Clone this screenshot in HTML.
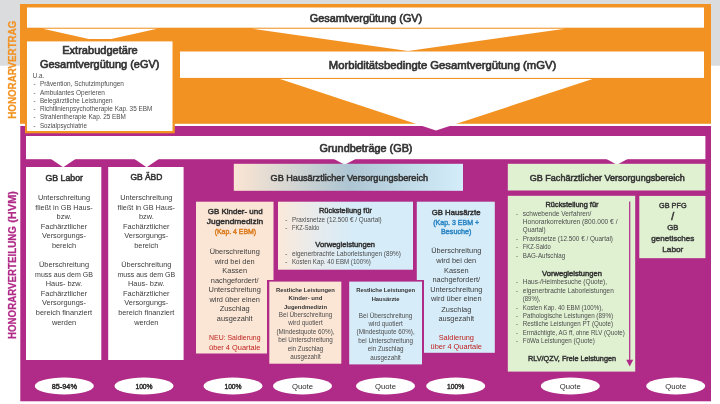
<!DOCTYPE html>
<html><head><meta charset="utf-8"><title>Honorarvertrag / Honorarverteilung</title>
<style>
html,body{margin:0;padding:0;background:#fff;}
body{width:720px;height:404px;overflow:hidden;}
svg{display:block;font-family:"Liberation Sans",sans-serif;will-change:transform;}
</style></head><body>
<svg width="720" height="404" viewBox="0 0 720 404">
<defs>
<linearGradient id="gh" x1="0" x2="1" y1="0" y2="0"><stop offset="0" stop-color="#FBE5D3"/><stop offset="0.5" stop-color="#AEC6D3"/><stop offset="1" stop-color="#D3EDFA"/></linearGradient>
<linearGradient id="gr" x1="0" x2="1" y1="0" y2="0"><stop offset="0" stop-color="#FBE9DA"/><stop offset="0.3" stop-color="#E6EBEE"/><stop offset="0.55" stop-color="#D6ECF8"/><stop offset="1" stop-color="#D6ECF8"/></linearGradient>
</defs>
<rect x="0" y="0" width="720" height="65.7" fill="#DBDCDE"/>
<rect x="20" y="4" width="691" height="119.8" fill="#F29222"/>
<rect x="20.3" y="126" width="690.7" height="275.3" fill="#B02A87"/>
<rect x="27" y="7.5" width="677" height="20.2" fill="#fff"/>
<polygon points="43,28.8 157,28.8 100,41.5" fill="#fff"/>
<polygon points="252,28.8 565,28.8 408,51" fill="#fff"/>
<rect x="180" y="51.5" width="524" height="26.4" fill="#fff"/>
<polygon points="280,79.0 592.5,79.0 436,130.5" fill="#fff"/>
<rect x="25" y="39" width="149.8" height="94.3" fill="#F29222"/>
<rect x="27" y="41.4" width="145.5" height="89.6" fill="#fff"/>
<text x="366" y="21.8" font-size="10.6" stroke="#333333" stroke-width="0.636" text-anchor="middle" fill="#333333" textLength="112.5" lengthAdjust="spacingAndGlyphs">Gesamtvergütung (GV)</text>
<text x="442.5" y="69.1" font-size="10.6" stroke="#333333" stroke-width="0.636" text-anchor="middle" fill="#333333" textLength="227.5" lengthAdjust="spacingAndGlyphs">Morbiditätsbedingte Gesamtvergütung (mGV)</text>
<text x="100" y="54.3" font-size="10.6" stroke="#333333" stroke-width="0.636" text-anchor="middle" fill="#333333" textLength="75.6" lengthAdjust="spacingAndGlyphs">Extrabudgetäre</text>
<text x="99.7" y="68.2" font-size="10.6" stroke="#333333" stroke-width="0.636" text-anchor="middle" fill="#333333" textLength="119.5" lengthAdjust="spacingAndGlyphs">Gesamtvergütung (eGV)</text>
<text x="32.7" y="78" font-size="6.3" fill="#4c4c4c">U.a.</text>
<text x="33.4" y="86" font-size="6.3" fill="#4c4c4c">-</text>
<text x="39.9" y="86" font-size="6.3" fill="#4c4c4c" textLength="84" lengthAdjust="spacingAndGlyphs">Prävention, Schutzimpfungen</text>
<text x="33.4" y="95" font-size="6.3" fill="#4c4c4c">-</text>
<text x="39.9" y="95" font-size="6.3" fill="#4c4c4c" textLength="65" lengthAdjust="spacingAndGlyphs">Ambulantes Operieren</text>
<text x="33.4" y="103" font-size="6.3" fill="#4c4c4c">-</text>
<text x="39.9" y="103" font-size="6.3" fill="#4c4c4c" textLength="72.7" lengthAdjust="spacingAndGlyphs">Belegärztliche Leistungen</text>
<text x="33.4" y="111" font-size="6.3" fill="#4c4c4c">-</text>
<text x="39.9" y="111" font-size="6.3" fill="#4c4c4c" textLength="112.5" lengthAdjust="spacingAndGlyphs">Richtlinienpsychotherapie Kap. 35 EBM</text>
<text x="33.4" y="119" font-size="6.3" fill="#4c4c4c">-</text>
<text x="39.9" y="119" font-size="6.3" fill="#4c4c4c" textLength="86" lengthAdjust="spacingAndGlyphs">Strahlentherapie Kap. 25 EBM</text>
<text x="33.4" y="128" font-size="6.3" fill="#4c4c4c">-</text>
<text x="39.9" y="128" font-size="6.3" fill="#4c4c4c" textLength="47" lengthAdjust="spacingAndGlyphs">Sozialpsychiatrie</text>
<rect x="26" y="136" width="679.4" height="23.2" fill="#fff"/>
<text x="366" y="152" font-size="10.6" stroke="#333333" stroke-width="0.636" text-anchor="middle" fill="#333333" textLength="93" lengthAdjust="spacingAndGlyphs">Grundbeträge (GB)</text>
<polygon points="51,159 75.5,159 63.2,167.2" fill="#fff"/>
<polygon points="134.5,159 158.8,159 146.6,167.2" fill="#fff"/>
<polygon points="334,159 355.5,159 344.7,164.8" fill="#fff"/>
<polygon points="606.5,159 627.5,159 617,164.8" fill="#fff"/>
<rect x="26" y="167" width="75.3" height="193" fill="#fff"/>
<rect x="108.2" y="167" width="75.4" height="193" fill="#fff"/>
<text x="64.2" y="180.6" font-size="8.2" stroke="#333333" stroke-width="0.492" text-anchor="middle" fill="#333333" textLength="37.4" lengthAdjust="spacingAndGlyphs">GB Labor</text>
<text x="64" y="200.1" font-size="7.4" text-anchor="middle" fill="#3c3c3c">Unterschreitung</text>
<text x="64" y="209.67" font-size="7.4" text-anchor="middle" fill="#3c3c3c" textLength="57.4" lengthAdjust="spacingAndGlyphs">fließt in GB Haus-</text>
<text x="64" y="219.24" font-size="7.4" text-anchor="middle" fill="#3c3c3c">bzw.</text>
<text x="64" y="228.81" font-size="7.4" text-anchor="middle" fill="#3c3c3c">Fachärztlicher</text>
<text x="64" y="238.38" font-size="7.4" text-anchor="middle" fill="#3c3c3c">Versorgungs-</text>
<text x="64" y="247.95" font-size="7.4" text-anchor="middle" fill="#3c3c3c">bereich</text>
<text x="64" y="267.09" font-size="7.4" text-anchor="middle" fill="#3c3c3c">Überschreitung</text>
<text x="64" y="276.66" font-size="7.4" text-anchor="middle" fill="#3c3c3c" textLength="57.8" lengthAdjust="spacingAndGlyphs">muss aus dem GB</text>
<text x="64" y="286.23" font-size="7.4" text-anchor="middle" fill="#3c3c3c">Haus- bzw.</text>
<text x="64" y="295.8" font-size="7.4" text-anchor="middle" fill="#3c3c3c">Fachärztlicher</text>
<text x="64" y="305.37" font-size="7.4" text-anchor="middle" fill="#3c3c3c">Versorgungs-</text>
<text x="64" y="314.94" font-size="7.4" text-anchor="middle" fill="#3c3c3c">bereich finanziert</text>
<text x="64" y="324.51" font-size="7.4" text-anchor="middle" fill="#3c3c3c">werden</text>
<text x="146.4" y="180.2" font-size="8.2" stroke="#333333" stroke-width="0.492" text-anchor="middle" fill="#333333" textLength="32" lengthAdjust="spacingAndGlyphs">GB ÄBD</text>
<text x="146.3" y="200.1" font-size="7.4" text-anchor="middle" fill="#3c3c3c">Unterschreitung</text>
<text x="146.3" y="209.67" font-size="7.4" text-anchor="middle" fill="#3c3c3c" textLength="57.4" lengthAdjust="spacingAndGlyphs">fließt in GB Haus-</text>
<text x="146.3" y="219.24" font-size="7.4" text-anchor="middle" fill="#3c3c3c">bzw.</text>
<text x="146.3" y="228.81" font-size="7.4" text-anchor="middle" fill="#3c3c3c">Fachärztlicher</text>
<text x="146.3" y="238.38" font-size="7.4" text-anchor="middle" fill="#3c3c3c">Versorgungs-</text>
<text x="146.3" y="247.95" font-size="7.4" text-anchor="middle" fill="#3c3c3c">bereich</text>
<text x="146.3" y="267.09" font-size="7.4" text-anchor="middle" fill="#3c3c3c">Überschreitung</text>
<text x="146.3" y="276.66" font-size="7.4" text-anchor="middle" fill="#3c3c3c" textLength="57.8" lengthAdjust="spacingAndGlyphs">muss aus dem GB</text>
<text x="146.3" y="286.23" font-size="7.4" text-anchor="middle" fill="#3c3c3c">Haus- bzw.</text>
<text x="146.3" y="295.8" font-size="7.4" text-anchor="middle" fill="#3c3c3c">Fachärztlicher</text>
<text x="146.3" y="305.37" font-size="7.4" text-anchor="middle" fill="#3c3c3c">Versorgungs-</text>
<text x="146.3" y="314.94" font-size="7.4" text-anchor="middle" fill="#3c3c3c">bereich finanziert</text>
<text x="146.3" y="324.51" font-size="7.4" text-anchor="middle" fill="#3c3c3c">werden</text>
<rect x="233.8" y="163.8" width="229.2" height="27" fill="url(#gh)"/>
<text x="349.3" y="180.5" font-size="8.4" stroke="#333333" stroke-width="0.504" text-anchor="middle" fill="#333333" textLength="157.5" lengthAdjust="spacingAndGlyphs">GB Hausärztlicher Versorgungsbereich</text>
<rect x="196" y="201.7" width="77.5" height="151.8" fill="#FBE6D5"/>
<text x="235.2" y="214.2" font-size="8.0" stroke="#333333" stroke-width="0.48" text-anchor="middle" fill="#333333" textLength="55" lengthAdjust="spacingAndGlyphs">GB Kinder- und</text>
<text x="235" y="224.4" font-size="8.0" stroke="#333333" stroke-width="0.48" text-anchor="middle" fill="#333333" textLength="56.3" lengthAdjust="spacingAndGlyphs">Jugendmedizin</text>
<text x="235.4" y="234.3" font-size="7.4" stroke="#DB7A1C" stroke-width="0.444" text-anchor="middle" fill="#DB7A1C" textLength="41.5" lengthAdjust="spacingAndGlyphs">(Kap. 4 EBM)</text>
<text x="234.7" y="254" font-size="7.4" text-anchor="middle" fill="#3c3c3c">Überschreitung</text>
<text x="234.7" y="264" font-size="7.4" text-anchor="middle" fill="#3c3c3c">wird bei den</text>
<text x="234.7" y="273" font-size="7.4" text-anchor="middle" fill="#3c3c3c">Kassen</text>
<text x="234.7" y="283" font-size="7.4" text-anchor="middle" fill="#3c3c3c">nachgefordert/</text>
<text x="234.7" y="292" font-size="7.4" text-anchor="middle" fill="#3c3c3c">Unterschreitung</text>
<text x="234.7" y="302" font-size="7.4" text-anchor="middle" fill="#3c3c3c">wird über einen</text>
<text x="234.7" y="311" font-size="7.4" text-anchor="middle" fill="#3c3c3c">Zuschlag</text>
<text x="234.7" y="321" font-size="7.4" text-anchor="middle" fill="#3c3c3c">ausgezahlt</text>
<text x="234.8" y="340.3" font-size="7.4" text-anchor="middle" fill="#C0211F" textLength="51.5" lengthAdjust="spacingAndGlyphs">NEU: Saldierung</text>
<text x="234.7" y="349.7" font-size="7.4" text-anchor="middle" fill="#C0211F">über 4 Quartale</text>
<rect x="278" y="201.7" width="135" height="68" fill="url(#gr)"/>
<text x="345.5" y="213.1" font-size="7.5" stroke="#333333" stroke-width="0.45" text-anchor="middle" fill="#333333" textLength="53" lengthAdjust="spacingAndGlyphs">Rückstellung für</text>
<text x="285.3" y="222" font-size="6.3" fill="#4c4c4c">-</text>
<text x="292" y="222" font-size="6.3" fill="#4c4c4c" textLength="89.7" lengthAdjust="spacingAndGlyphs">Praxisnetze (12.500 € / Quartal)</text>
<text x="285.3" y="229.6" font-size="6.3" fill="#4c4c4c">-</text>
<text x="292" y="229.6" font-size="6.3" fill="#4c4c4c" textLength="27.3" lengthAdjust="spacingAndGlyphs">FKZ-Saldo</text>
<text x="345.2" y="246.9" font-size="7.5" stroke="#333333" stroke-width="0.45" text-anchor="middle" fill="#333333" textLength="59.8" lengthAdjust="spacingAndGlyphs">Vorwegleistungen</text>
<text x="285.3" y="255.8" font-size="6.3" fill="#4c4c4c">-</text>
<text x="292" y="255.8" font-size="6.3" fill="#4c4c4c" textLength="108.9" lengthAdjust="spacingAndGlyphs">eigenerbrachte Laborleistungen (89%)</text>
<text x="285.3" y="263.8" font-size="6.3" fill="#4c4c4c">-</text>
<text x="292" y="263.8" font-size="6.3" fill="#4c4c4c" textLength="78.7" lengthAdjust="spacingAndGlyphs">Kosten Kap. 40 EBM (100%)</text>
<rect x="416.8" y="201.7" width="78.0" height="151.1" fill="#D6ECF8"/>
<text x="456.1" y="215" font-size="8.0" stroke="#333333" stroke-width="0.48" text-anchor="middle" fill="#333333" textLength="48.8" lengthAdjust="spacingAndGlyphs">GB Hausärzte</text>
<text x="456.2" y="225" font-size="7.4" stroke="#2B86C5" stroke-width="0.444" text-anchor="middle" fill="#2B86C5" textLength="46" lengthAdjust="spacingAndGlyphs">(Kap. 3 EBM +</text>
<text x="456.2" y="234" font-size="7.4" stroke="#2B86C5" stroke-width="0.444" text-anchor="middle" fill="#2B86C5" textLength="30.4" lengthAdjust="spacingAndGlyphs">Besuche)</text>
<text x="456.3" y="253" font-size="7.4" text-anchor="middle" fill="#3c3c3c">Überschreitung</text>
<text x="456.3" y="263" font-size="7.4" text-anchor="middle" fill="#3c3c3c">wird bei den</text>
<text x="456.3" y="273" font-size="7.4" text-anchor="middle" fill="#3c3c3c">Kassen</text>
<text x="456.3" y="282" font-size="7.4" text-anchor="middle" fill="#3c3c3c">nachgefordert/</text>
<text x="456.3" y="292" font-size="7.4" text-anchor="middle" fill="#3c3c3c">Unterschreitung</text>
<text x="456.3" y="301" font-size="7.4" text-anchor="middle" fill="#3c3c3c">wird über einen</text>
<text x="456.3" y="312" font-size="7.4" text-anchor="middle" fill="#3c3c3c">Zuschlag</text>
<text x="456.3" y="321" font-size="7.4" text-anchor="middle" fill="#3c3c3c">ausgezahlt</text>
<text x="456.3" y="340" font-size="7.4" text-anchor="middle" fill="#C0211F">Saldierung</text>
<text x="456.3" y="348.6" font-size="7.4" text-anchor="middle" fill="#C0211F">über 4 Quartale</text>
<rect x="267" y="280" width="76" height="85.3" fill="#B02A87"/>
<rect x="269.3" y="281.6" width="72.0" height="82.1" fill="#FBE6D5"/>
<rect x="347" y="280" width="77" height="86" fill="#B02A87"/>
<rect x="349.2" y="281.6" width="72.8" height="82.8" fill="#D6ECF8"/>
<text x="305.5" y="291.9" font-size="6.0" font-weight="bold" text-anchor="middle" fill="#333333" textLength="58.8" lengthAdjust="spacingAndGlyphs">Restliche Leistungen</text>
<text x="305.5" y="300.0" font-size="6.0" font-weight="bold" text-anchor="middle" fill="#333333" textLength="33.8" lengthAdjust="spacingAndGlyphs">Kinder- und</text>
<text x="305.5" y="308.9" font-size="6.0" font-weight="bold" text-anchor="middle" fill="#333333" textLength="43" lengthAdjust="spacingAndGlyphs">Jugendmedizin</text>
<text x="305.5" y="316.9" font-size="6.3" text-anchor="middle" fill="#4c4c4c">Bei Überschreitung</text>
<text x="305.5" y="325.3" font-size="6.3" text-anchor="middle" fill="#4c4c4c">wird quotiert</text>
<text x="305.5" y="333.8" font-size="6.3" text-anchor="middle" fill="#4c4c4c">(Mindestquote 60%),</text>
<text x="305.5" y="342.0" font-size="6.3" text-anchor="middle" fill="#4c4c4c">bei Unterschreitung</text>
<text x="305.5" y="351.2" font-size="6.3" text-anchor="middle" fill="#4c4c4c">ein Zuschlag</text>
<text x="305.5" y="359.1" font-size="6.3" text-anchor="middle" fill="#4c4c4c">ausgezahlt</text>
<text x="385.6" y="291.9" font-size="6.0" font-weight="bold" text-anchor="middle" fill="#333333" textLength="58.8" lengthAdjust="spacingAndGlyphs">Restliche Leistungen</text>
<text x="385.6" y="300.7" font-size="6.0" font-weight="bold" text-anchor="middle" fill="#333333" textLength="27.9" lengthAdjust="spacingAndGlyphs">Hausärzte</text>
<text x="385.6" y="317.5" font-size="6.3" text-anchor="middle" fill="#4c4c4c">Bei Überschreitung</text>
<text x="385.6" y="326" font-size="6.3" text-anchor="middle" fill="#4c4c4c">wird quotiert</text>
<text x="385.6" y="333.8" font-size="6.3" text-anchor="middle" fill="#4c4c4c">(Mindestquote 60%),</text>
<text x="385.6" y="342.6" font-size="6.3" text-anchor="middle" fill="#4c4c4c">bei Unterschreitung</text>
<text x="385.6" y="351.0" font-size="6.3" text-anchor="middle" fill="#4c4c4c">ein Zuschlag</text>
<text x="385.6" y="359.6" font-size="6.3" text-anchor="middle" fill="#4c4c4c">ausgezahlt</text>
<rect x="507.8" y="163.8" width="197.6" height="26.7" fill="#E0F1D2"/>
<text x="607.3" y="180.6" font-size="8.4" stroke="#333333" stroke-width="0.504" text-anchor="middle" fill="#333333" textLength="155" lengthAdjust="spacingAndGlyphs">GB Fachärztlicher Versorgungsbereich</text>
<rect x="507.8" y="195.8" width="127.4" height="175.8" fill="#E0F1D2"/>
<rect x="639.3" y="195.9" width="66.1" height="62.3" fill="#E0F1D2"/>
<text x="672.8" y="207.6" font-size="7.8" stroke="#3a3a3a" stroke-width="0.468" text-anchor="middle" fill="#3a3a3a" textLength="27.5" lengthAdjust="spacingAndGlyphs">GB PFG</text>
<text x="672.8" y="219.7" font-size="10.5" stroke="#3a3a3a" stroke-width="0.63" text-anchor="middle" fill="#3a3a3a">/</text>
<text x="672.8" y="229.5" font-size="7.8" stroke="#3a3a3a" stroke-width="0.468" text-anchor="middle" fill="#3a3a3a" textLength="11.1" lengthAdjust="spacingAndGlyphs">GB</text>
<text x="672.8" y="240.5" font-size="7.8" stroke="#3a3a3a" stroke-width="0.468" text-anchor="middle" fill="#3a3a3a" textLength="43.2" lengthAdjust="spacingAndGlyphs">genetisches</text>
<text x="672.8" y="251.6" font-size="7.8" stroke="#3a3a3a" stroke-width="0.468" text-anchor="middle" fill="#3a3a3a" textLength="21.2" lengthAdjust="spacingAndGlyphs">Labor</text>
<text x="572" y="207" font-size="7.5" stroke="#333333" stroke-width="0.45" text-anchor="middle" fill="#333333" textLength="53" lengthAdjust="spacingAndGlyphs">Rückstellung für</text>
<text x="516" y="216" font-size="6.3" fill="#4c4c4c">-</text>
<text x="522.8" y="216" font-size="6.3" fill="#4c4c4c" textLength="68.6" lengthAdjust="spacingAndGlyphs">schwebende Verfahren/</text>
<text x="522.8" y="223.9" font-size="6.3" fill="#4c4c4c" textLength="94.7" lengthAdjust="spacingAndGlyphs">Honorarkorrekturen (800.000 € /</text>
<text x="522.8" y="232.4" font-size="6.3" fill="#4c4c4c" textLength="22.7" lengthAdjust="spacingAndGlyphs">Quartal)</text>
<text x="516" y="240.9" font-size="6.3" fill="#4c4c4c">-</text>
<text x="522.8" y="240.9" font-size="6.3" fill="#4c4c4c" textLength="90.2" lengthAdjust="spacingAndGlyphs">Praxisnetze (12.500 € / Quartal)</text>
<text x="516" y="249.1" font-size="6.3" fill="#4c4c4c">-</text>
<text x="522.8" y="249.1" font-size="6.3" fill="#4c4c4c" textLength="27.9" lengthAdjust="spacingAndGlyphs">FKZ-Saldo</text>
<text x="516" y="257.6" font-size="6.3" fill="#4c4c4c">-</text>
<text x="522.8" y="257.6" font-size="6.3" fill="#4c4c4c" textLength="42.3" lengthAdjust="spacingAndGlyphs">BAG-Aufschlag</text>
<text x="572" y="276" font-size="7.5" stroke="#333333" stroke-width="0.45" text-anchor="middle" fill="#333333" textLength="59.8" lengthAdjust="spacingAndGlyphs">Vorwegleistungen</text>
<text x="516" y="283.8" font-size="6.3" fill="#4c4c4c">-</text>
<text x="522.8" y="283.8" font-size="6.3" fill="#4c4c4c" textLength="84.3" lengthAdjust="spacingAndGlyphs">Haus-/Heimbesuche (Quote),</text>
<text x="516" y="293.0" font-size="6.3" fill="#4c4c4c">-</text>
<text x="522.8" y="293.0" font-size="6.3" fill="#4c4c4c" textLength="91" lengthAdjust="spacingAndGlyphs">eigenerbrachte Laborleistungen</text>
<text x="522.8" y="300.9" font-size="6.3" fill="#4c4c4c" textLength="17.6" lengthAdjust="spacingAndGlyphs">(89%),</text>
<text x="516" y="309.6" font-size="6.3" fill="#4c4c4c">-</text>
<text x="522.8" y="309.6" font-size="6.3" fill="#4c4c4c" textLength="80.2" lengthAdjust="spacingAndGlyphs">Kosten Kap. 40 EBM (100%),</text>
<text x="516" y="318" font-size="6.3" fill="#4c4c4c">-</text>
<text x="522.8" y="318" font-size="6.3" fill="#4c4c4c" textLength="90.3" lengthAdjust="spacingAndGlyphs">Pathologische Leistungen (89%)</text>
<text x="516" y="326" font-size="6.3" fill="#4c4c4c">-</text>
<text x="522.8" y="326" font-size="6.3" fill="#4c4c4c" textLength="90.3" lengthAdjust="spacingAndGlyphs">Restliche Leistungen PT (Quote)</text>
<text x="516" y="335" font-size="6.3" fill="#4c4c4c">-</text>
<text x="522.8" y="335" font-size="6.3" fill="#4c4c4c" textLength="102" lengthAdjust="spacingAndGlyphs">Ermächtigte, AG ff, ohne RLV (Quote)</text>
<text x="516" y="343" font-size="6.3" fill="#4c4c4c">-</text>
<text x="522.8" y="343" font-size="6.3" fill="#4c4c4c" textLength="72" lengthAdjust="spacingAndGlyphs">FöWa Leistungen (Quote)</text>
<text x="572" y="360.8" font-size="7.5" stroke="#333333" stroke-width="0.45" text-anchor="middle" fill="#333333" textLength="88" lengthAdjust="spacingAndGlyphs">RLV/QZV, Freie Leistungen</text>
<rect x="629.1" y="201.5" width="1.2" height="159.5" fill="#B02A87"/>
<polygon points="626.2,359.7 633.2,359.7 629.7,366.4" fill="#B02A87"/>
<ellipse cx="64.3" cy="386" rx="29.5" ry="8.4" fill="#fff"/>
<text x="64.3" y="389.3" font-size="7.3" stroke="#2b2b2b" stroke-width="0.438" text-anchor="middle" fill="#2b2b2b" textLength="25.2" lengthAdjust="spacingAndGlyphs">85-94%</text>
<ellipse cx="144" cy="386" rx="29.5" ry="8.4" fill="#fff"/>
<text x="144" y="389.3" font-size="7.3" stroke="#2b2b2b" stroke-width="0.438" text-anchor="middle" fill="#2b2b2b" textLength="17.2" lengthAdjust="spacingAndGlyphs">100%</text>
<ellipse cx="233" cy="386" rx="29.5" ry="8.4" fill="#fff"/>
<text x="233" y="389.3" font-size="7.3" stroke="#2b2b2b" stroke-width="0.438" text-anchor="middle" fill="#2b2b2b" textLength="17.2" lengthAdjust="spacingAndGlyphs">100%</text>
<ellipse cx="302.5" cy="386" rx="29.5" ry="8.4" fill="#fff"/>
<text x="302.5" y="389.3" font-size="7.2" text-anchor="middle" fill="#2b2b2b" textLength="21" lengthAdjust="spacingAndGlyphs">Quote</text>
<ellipse cx="385.5" cy="386" rx="29.5" ry="8.4" fill="#fff"/>
<text x="385.5" y="389.3" font-size="7.2" text-anchor="middle" fill="#2b2b2b" textLength="21" lengthAdjust="spacingAndGlyphs">Quote</text>
<ellipse cx="455.7" cy="386" rx="29.5" ry="8.4" fill="#fff"/>
<text x="455.7" y="389.3" font-size="7.3" stroke="#2b2b2b" stroke-width="0.438" text-anchor="middle" fill="#2b2b2b" textLength="17.2" lengthAdjust="spacingAndGlyphs">100%</text>
<ellipse cx="570.3" cy="386" rx="29.5" ry="8.4" fill="#fff"/>
<text x="570.3" y="389.3" font-size="7.2" text-anchor="middle" fill="#2b2b2b" textLength="21" lengthAdjust="spacingAndGlyphs">Quote</text>
<ellipse cx="675.7" cy="386" rx="29.5" ry="8.4" fill="#fff"/>
<text x="675.7" y="389.3" font-size="7.2" text-anchor="middle" fill="#2b2b2b" textLength="21" lengthAdjust="spacingAndGlyphs">Quote</text>
<text transform="translate(16,69.7) rotate(-90)" font-size="11" font-weight="bold" text-anchor="middle" fill="#F29222" stroke="#F29222" stroke-width="0.25" textLength="98" lengthAdjust="spacingAndGlyphs">HONORARVERTRAG</text>
<text transform="translate(15.7,339) rotate(-90)" font-size="10.4" font-weight="bold" fill="#B02A87" stroke="#B02A87" stroke-width="0.25" textLength="112.8" lengthAdjust="spacingAndGlyphs">HONORARVERTEILUNG</text>
<text transform="translate(15.7,222.8) rotate(-90)" font-size="10.4" font-weight="bold" fill="#B02A87" stroke="#B02A87" stroke-width="0.25" textLength="31.8" lengthAdjust="spacingAndGlyphs">(HVM)</text>
</svg>
</body></html>
